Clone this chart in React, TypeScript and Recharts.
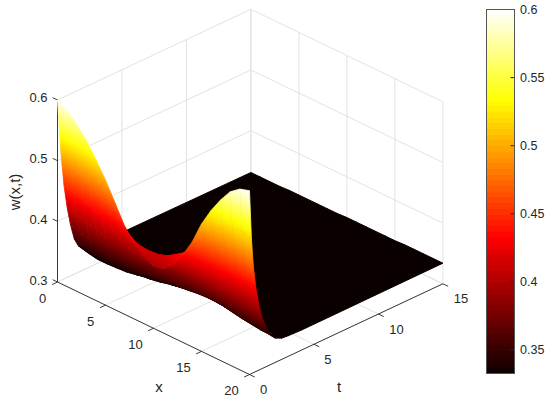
import React from "react";
import { BarChart, Bar, ComposedChart, Line, Scatter, XAxis, YAxis } from "recharts";

const xNodes = [0, 1, 2, 3, 4, 5, 6, 7, 8, 9, 10, 11, 12, 13, 14, 15, 16, 17, 18, 19, 20];
const tNodes = [0, 0.15, 0.3, 0.5, 0.75, 1, 1.3, 1.6, 2, 2.5, 3, 4, 15];

// w(x,t), one list per t node
const wT0 = [0.6, 0.59, 0.575, 0.556, 0.532, 0.506, 0.476, 0.445, 0.424, 0.409, 0.402, 0.405, 0.42, 0.443, 0.472, 0.51, 0.54, 0.565, 0.586, 0.598, 0.603];
const wT015 = [0.548, 0.54, 0.53, 0.516, 0.498, 0.48, 0.458, 0.436, 0.423, 0.414, 0.411, 0.415, 0.428, 0.445, 0.465, 0.488, 0.505, 0.518, 0.527, 0.528, 0.522];
const wT03 = [0.502, 0.498, 0.49, 0.48, 0.468, 0.455, 0.441, 0.428, 0.42, 0.418, 0.419, 0.424, 0.434, 0.445, 0.456, 0.468, 0.478, 0.484, 0.487, 0.484, 0.475];
const wT05 = [0.455, 0.452, 0.447, 0.44, 0.432, 0.424, 0.416, 0.41, 0.407, 0.407, 0.411, 0.416, 0.423, 0.43, 0.436, 0.441, 0.445, 0.447, 0.447, 0.443, 0.437];
const wT075 = [0.415, 0.411, 0.407, 0.402, 0.397, 0.393, 0.39, 0.389, 0.39, 0.392, 0.396, 0.401, 0.406, 0.41, 0.413, 0.415, 0.416, 0.416, 0.414, 0.41, 0.405];
const wT1 = [0.385, 0.38, 0.375, 0.372, 0.371, 0.372, 0.374, 0.377, 0.381, 0.385, 0.388, 0.391, 0.393, 0.395, 0.395, 0.395, 0.393, 0.391, 0.389, 0.386, 0.383];
const wT13 = [0.358, 0.353, 0.349, 0.347, 0.347, 0.349, 0.352, 0.356, 0.361, 0.365, 0.369, 0.372, 0.375, 0.377, 0.377, 0.376, 0.374, 0.372, 0.37, 0.367, 0.365];
const wT16 = [0.344, 0.34, 0.337, 0.337, 0.338, 0.339, 0.342, 0.346, 0.351, 0.354, 0.356, 0.358, 0.3605, 0.362, 0.361, 0.36, 0.357, 0.354, 0.352, 0.35, 0.35];
const wT2 = [0.336, 0.334, 0.334, 0.334, 0.334, 0.335, 0.336, 0.338, 0.341, 0.345, 0.348, 0.35, 0.352, 0.353, 0.353, 0.351, 0.349, 0.347, 0.345, 0.342, 0.34];
const wT25 = [0.333, 0.333, 0.333, 0.333, 0.333, 0.333, 0.333, 0.334, 0.335, 0.337, 0.34, 0.3425, 0.344, 0.343, 0.3415, 0.339, 0.338, 0.337, 0.336, 0.335, 0.335];
const wT3 = [0.333, 0.333, 0.333, 0.333, 0.333, 0.333, 0.333, 0.333, 0.333, 0.333, 0.334, 0.335, 0.336, 0.335, 0.335, 0.334, 0.334, 0.334, 0.334, 0.334, 0.334];
const wT4 = [0.332, 0.332, 0.332, 0.332, 0.332, 0.332, 0.332, 0.333, 0.333, 0.333, 0.333, 0.333, 0.333, 0.333, 0.333, 0.333, 0.333, 0.333, 0.333, 0.333, 0.333];
const wT15 = [0.331, 0.331, 0.331, 0.331, 0.332, 0.332, 0.332, 0.332, 0.332, 0.332, 0.333, 0.333, 0.333, 0.333, 0.333, 0.333, 0.334, 0.334, 0.334, 0.334, 0.334];
const wRows = [wT0, wT015, wT03, wT05, wT075, wT1, wT13, wT16, wT2, wT25, wT3, wT4, wT15];

const xTicks = [0, 5, 10, 15, 20];
const tTicks = [0, 5, 10, 15];
const wTicks = [0.3, 0.4, 0.5, 0.6];
const colorbarTicks = [0.35, 0.4, 0.45, 0.5, 0.55, 0.6];

const X_MAX = 20;
const T_MAX = 15;
const W_MIN = 0.3;
const W_MAX = 0.6;
const C_MIN = 0.3324;
const C_MAX = 0.6;
const LEVELS = 64;
const GRID = "#e2e2e2";
const INK = "#262626";
const BOX_STROKE = "#555";
const FONT = "'Liberation Sans', Arial, sans-serif";

// orthographic view of the box, same view the figure uses
const project = (x: number, t: number, w: number) => ({
    vx: 57.5 + x * 9.6 + t * 12.893,
    vy: 282 + x * 4.625 - t * 6.047 - (w - W_MIN) * 606.7,
});

const clamp = (v: number) => Math.min(1, Math.max(0, v));

function hot(f: number): string {
    const r = clamp(0.0417 + (f * 0.9583) / 0.375);
    const g = clamp((f - 0.375) / 0.375);
    const b = clamp((f - 0.75) / 0.25);
    return `rgb(${Math.round(r * 255)},${Math.round(g * 255)},${Math.round(b * 255)})`;
}
// first level of the colormap is flat, the plateau has to stay one colour
const colorOf = (w: number) => hot(clamp((w - C_MIN) / (C_MAX - C_MIN) - 1 / LEVELS));

interface Vertex {
    vx: number;
    vy: number;
    w: number;
}

const vertex = (i: number, j: number): Vertex => ({ ...project(xNodes[i], tNodes[j], wRows[j][i]), w: wRows[j][i] });

// far rows first, so nearer cells paint over them
const cells: any[] = [];
for (let j = tNodes.length - 2; j >= 0; j--) {
    for (let i = 0; i < xNodes.length - 1; i++) {
        const quad = [vertex(i, j + 1), vertex(i + 1, j + 1), vertex(i + 1, j), vertex(i, j)];
        cells.push({
            id: `cell-${cells.length}`,
            vx: quad.reduce((s, p) => s + p.vx, 0) / 4,
            vy: quad.reduce((s, p) => s + p.vy, 0) / 4,
            quad,
        });
    }
}

const CellShape = (props: any) => {
    const { cx, cy, payload } = props;
    const quad: Vertex[] = payload.quad;
    const points = quad.map((p) => `${p.vx - payload.vx + cx},${p.vy - payload.vy + cy}`).join(" ");
    const ws = quad.map((p) => p.w);
    const lo = Math.min(...ws);
    const hi = Math.max(...ws);
    const mean = ws.reduce((s, v) => s + v, 0) / 4;
    // straight colour bands inside a cell: least squares plane of w over the screen
    let sxx = 0;
    let syy = 0;
    let sxy = 0;
    let sxw = 0;
    let syw = 0;
    quad.forEach((p) => {
        const dx = p.vx - payload.vx;
        const dy = p.vy - payload.vy;
        const dw = p.w - mean;
        sxx += dx * dx;
        syy += dy * dy;
        sxy += dx * dy;
        sxw += dx * dw;
        syw += dy * dw;
    });
    const det = sxx * syy - sxy * sxy;
    const gx = det > 1 ? (syy * sxw - sxy * syw) / det : 0;
    const gy = det > 1 ? (sxx * syw - sxy * sxw) / det : 0;
    const g2 = gx * gx + gy * gy;
    if (hi - lo < 0.002 || hi < 0.3366 || g2 < 1e-10) {
        const fill = colorOf(mean);
        return <polygon points={points} fill={fill} stroke={fill} strokeWidth={1} />;
    }
    const x1 = cx + (gx * (lo - mean)) / g2;
    const y1 = cy + (gy * (lo - mean)) / g2;
    const x2 = cx + (gx * (hi - mean)) / g2;
    const y2 = cy + (gy * (hi - mean)) / g2;
    const n = Math.max(1, Math.ceil((hi - lo) / 0.012));
    const stops = [];
    for (let k = 0; k <= n; k++) {
        stops.push(<stop key={k} offset={k / n} stopColor={colorOf(lo + ((hi - lo) * k) / n)} />);
    }
    return (
        <g>
            <defs>
                <linearGradient id={payload.id} gradientUnits="userSpaceOnUse" x1={x1} y1={y1} x2={x2} y2={y2}>
                    {stops}
                </linearGradient>
            </defs>
            <polygon points={points} fill={`url(#${payload.id})`} stroke={`url(#${payload.id})`} strokeWidth={0.8} />
        </g>
    );
};

const TextShape = (props: any) => {
    const { cx, cy, payload } = props;
    return (
        <text
            x={cx + payload.dx}
            y={cy + payload.dy}
            textAnchor={payload.anchor}
            dominantBaseline="central"
            fontSize={payload.size}
            fontFamily={FONT}
            fill={INK}
            transform={payload.rotate ? `rotate(-90 ${cx + payload.dx} ${cy + payload.dy})` : undefined}
        >
            {payload.text}
        </text>
    );
};

const seg = (a: number[], b: number[]) => [project(a[0], a[1], a[2]), project(b[0], b[1], b[2])];

const gridSegments: any[] = [];
wTicks.forEach((w) => {
    gridSegments.push(seg([0, 0, w], [0, T_MAX, w]));
    gridSegments.push(seg([0, T_MAX, w], [X_MAX, T_MAX, w]));
});
tTicks.forEach((t) => {
    gridSegments.push(seg([0, t, W_MIN], [X_MAX, t, W_MIN]));
    gridSegments.push(seg([0, t, W_MIN], [0, t, W_MAX]));
});
xTicks.forEach((x) => {
    gridSegments.push(seg([x, 0, W_MIN], [x, T_MAX, W_MIN]));
    gridSegments.push(seg([x, T_MAX, W_MIN], [x, T_MAX, W_MAX]));
});

const axisSegments: any[] = [seg([0, 0, W_MIN], [0, 0, W_MAX]), seg([0, 0, W_MIN], [X_MAX, 0, W_MIN]), seg([X_MAX, 0, W_MIN], [X_MAX, T_MAX, W_MIN])];
xTicks.forEach((x) => axisSegments.push(seg([x, 0, W_MIN], [x, -0.42, W_MIN])));
tTicks.forEach((t) => axisSegments.push(seg([X_MAX, t, W_MIN], [X_MAX + 0.55, t, W_MIN])));
wTicks.forEach((w) => axisSegments.push(seg([0, 0, w], [-0.5, 0, w])));

const textPoints: any[] = [
    ...xTicks.map((x) => ({ ...project(x, 0, W_MIN), text: String(x), size: 13, dx: x < 10 ? -15 : -18, dy: 16, anchor: "middle" })),
    ...tTicks.map((t) => ({ ...project(X_MAX, t, W_MIN), text: String(t), size: 13, dx: t < 10 ? 14 : 18, dy: 15, anchor: "middle" })),
    ...wTicks.map((w) => ({ ...project(0, 0, w), text: w.toFixed(1), size: 13, dx: -10, dy: -2, anchor: "end" })),
    { ...project(X_MAX / 2, 0, W_MIN), text: "x", size: 15, dx: 5.5, dy: 58, anchor: "middle" },
    { ...project(X_MAX, T_MAX / 2, W_MIN), text: "t", size: 15, dx: -7, dy: 57, anchor: "middle" },
    { ...project(0, 0, 0.45), text: "w(x,t)", size: 15, dx: -42.5, dy: 1, anchor: "middle", rotate: true },
];

// colorbar: one stacked bar, one segment per colormap level
const colorLevels: number[] = [];
for (let k = 0; k < LEVELS; k++) colorLevels.push(k);
const colorbarRow: any = { name: "w", base: C_MIN };
colorLevels.forEach((k) => {
    colorbarRow[`l${k}`] = (C_MAX - C_MIN) / LEVELS;
});
const colorbarData = [colorbarRow];

const ColorbarTick = (props: any) => {
    const { x, y, payload } = props;
    return (
        <g>
            <line x1={x - 9.5} x2={x - 6} y1={y} y2={y} stroke={INK} />
            <text x={x} y={y} dominantBaseline="central" fontSize={12.5} fontFamily={FONT} fill={INK}>
                {payload.value}
            </text>
        </g>
    );
};

const ColorbarBand = (props: any) => {
    const { x, y, width, height, fill } = props;
    return <rect x={x} y={y} width={width} height={height} fill={fill} shapeRendering="crispEdges" />;
};

const App = () => (
    <div style={{ position: "absolute", left: 0, top: 0, width: 550, height: 401, background: "#fff" }}>
        <div style={{ position: "absolute", left: 0, top: 0 }}>
            <ComposedChart width={550} height={401} margin={{ top: 0, right: 0, bottom: 0, left: 0 }}>
                <XAxis type="number" dataKey="vx" domain={[0, 550]} hide allowDataOverflow />
                <YAxis type="number" dataKey="vy" domain={[0, 401]} reversed hide allowDataOverflow />
                {gridSegments.map((s, i) => (
                    <Line key={`grid-${i}`} data={s} dataKey="vy" stroke={GRID} strokeWidth={1} dot={false} activeDot={false} isAnimationActive={false} />
                ))}
                <Scatter data={cells} dataKey="vy" shape={CellShape} isAnimationActive={false} />
                {axisSegments.map((s, i) => (
                    <Line key={`axis-${i}`} data={s} dataKey="vy" stroke={INK} strokeWidth={0.9} dot={false} activeDot={false} isAnimationActive={false} />
                ))}
                <Scatter data={textPoints} dataKey="vy" shape={TextShape} isAnimationActive={false} />
            </ComposedChart>
        </div>
        <div style={{ position: "absolute", left: 480, top: 0 }}>
            <BarChart width={70} height={401} data={colorbarData} barCategoryGap={0} margin={{ top: 9.5, right: 0, bottom: 27, left: 6 }}>
                <XAxis type="category" dataKey="name" hide />
                <YAxis
                    type="number"
                    orientation="right"
                    width={36}
                    domain={[C_MIN, C_MAX]}
                    ticks={colorbarTicks}
                    axisLine={false}
                    tickLine={false}
                    tickSize={0}
                    tickMargin={6}
                    tick={<ColorbarTick />}
                    allowDataOverflow
                />
                <Bar dataKey="base" stackId="c" fill="none" isAnimationActive={false} />
                {colorLevels.map((k) => (
                    <Bar key={k} dataKey={`l${k}`} stackId="c" fill={hot((k + 0.5) / LEVELS)} shape={ColorbarBand} isAnimationActive={false} />
                ))}
            </BarChart>
            <div style={{ position: "absolute", left: 6, top: 9, width: 28.5, height: 365, border: `1px solid ${BOX_STROKE}`, boxSizing: "border-box" }} />
        </div>
    </div>
);

export default App;
